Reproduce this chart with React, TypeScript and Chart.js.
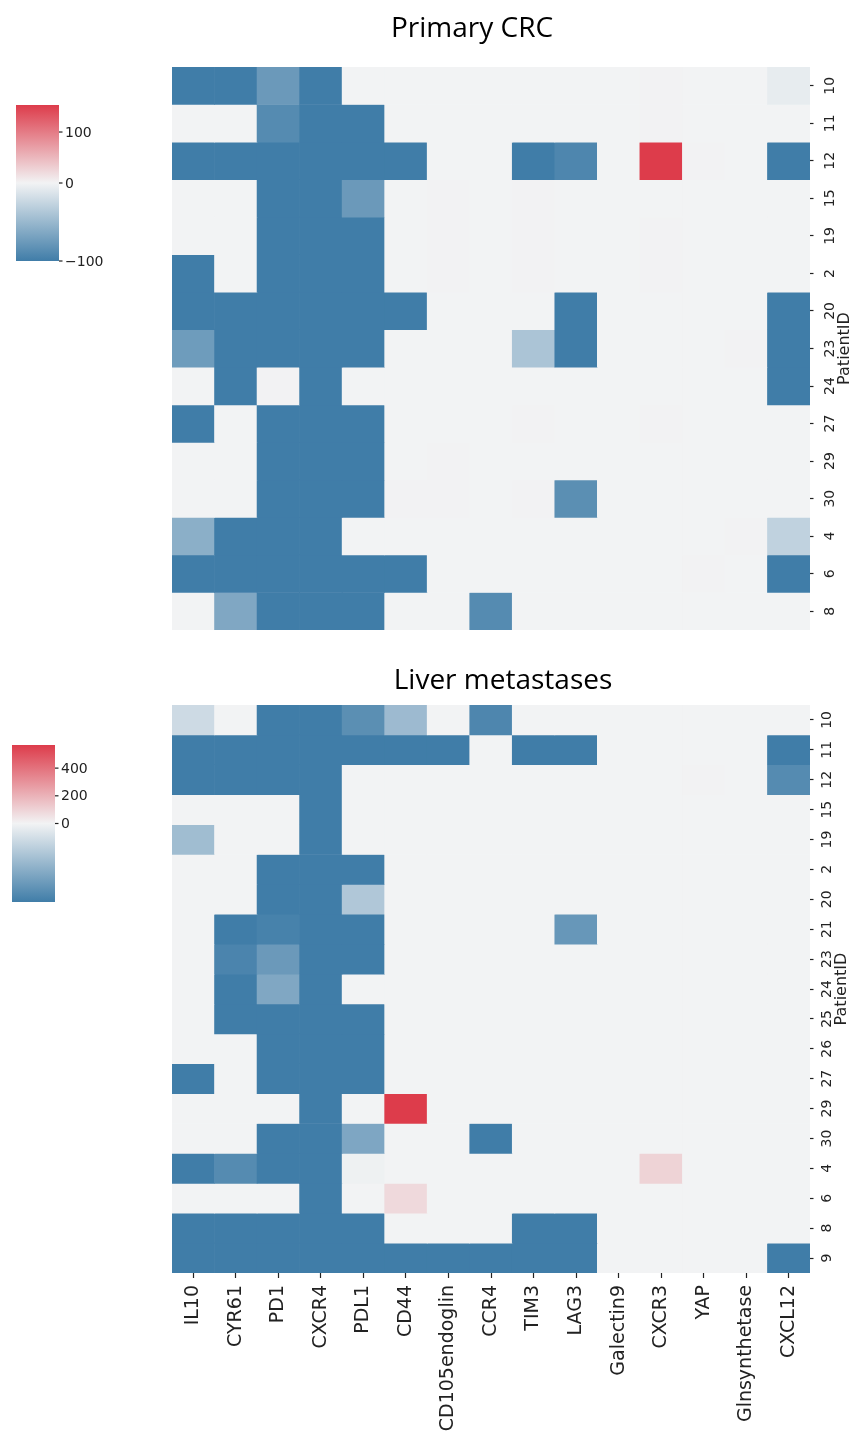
import React, { useEffect, useRef } from 'react';
import { Chart, registerables } from 'chart.js';

Chart.register(...registerables);

// ---------- data ----------
const MARKERS = [
  'IL10', 'CYR61', 'PD1', 'CXCR4', 'PDL1', 'CD44', 'CD105endoglin', 'CCR4',
  'TIM3', 'LAG3', 'Galectin9', 'CXCR3', 'YAP', 'Glnsynthetase', 'CXCL12',
];

const PRIMARY_PATIENTS = ['10', '11', '12', '15', '19', '2', '20', '23', '24', '27', '29', '30', '4', '6', '8'];
// rows = patients, columns = MARKERS
const PRIMARY_VALUES: number[][] = [
  [-100, -100, -76, -100, 0, 0, 0, 0, 0, 0, 0, 1, 0, 0, -6],
  [0, 0, -88, -100, -100, 0, 0, 0, 0, 0, 0, 1, 0, 0, 0],
  [-100, -100, -100, -100, -100, -100, 0, 0, -100, -92, 0, 153, 1, 0, -100],
  [0, 0, -100, -100, -76, 0, 1, 0, 1, 0, 0, 0, 0, 0, 0],
  [0, 0, -100, -100, -100, 0, 1, 0, 1, 0, 0, 1, 0, 0, 0],
  [-100, 0, -100, -100, -100, 0, 1, 0, 1, 0, 0, 1, 0, 0, 0],
  [-100, -100, -100, -100, -100, -100, 0, 0, 0, -100, 0, 0, 0, 0, -100],
  [-74, -100, -100, -100, -100, 0, 0, 0, -40, -100, 0, 0, 0, 1, -100],
  [0, -100, 1, -100, 0, 0, 0, 0, 0, 0, 0, 0, 0, 0, -100],
  [-100, 0, -100, -100, -100, 0, 0, 0, 1, 0, 0, 1, 0, 0, 0],
  [0, 0, -100, -100, -100, 0, 1, 0, 0, 0, 0, 0, 0, 0, 0],
  [0, 0, -100, -100, -100, 1, 1, 0, 1, -85, 0, 0, 0, 0, 0],
  [-58, -100, -100, -100, 0, 0, 0, 0, 0, 0, 0, 0, 0, 1, -28],
  [-100, -100, -100, -100, -100, -100, 0, 0, 0, 0, 0, 0, 1, 0, -100],
  [0, -64, -100, -100, -100, 0, 0, -88, 0, 0, 0, 0, 0, 0, 0],
];
const PRIMARY_VMIN = -100;
const PRIMARY_VMAX = 153;
const PRIMARY_CBAR_TICKS = [100, 0, -100];

const LIVER_PATIENTS = ['10', '11', '12', '15', '19', '2', '20', '21', '23', '24', '25', '26', '27', '29', '30', '4', '6', '8', '9'];
const LIVER_VALUES: number[][] = [
  [-21, 0, -100, -100, -85, -48, 0, -92, 1, 0, 0, 0, 0, 0, 0],
  [-100, -100, -100, -100, -100, -100, -100, 0, -100, -100, 0, 1, 0, 1, -100],
  [-100, -100, -100, -100, 0, 0, 0, 0, 0, 0, 0, 1, 2, 0, -88],
  [0, 0, 1, -100, 0, 1, 0, 0, 1, 0, 0, 0, 0, 0, 0],
  [-46, 0, 0, -100, 0, 0, 0, 0, 1, 0, 0, 1, 0, 0, 0],
  [0, 0, -100, -100, -100, 0, 0, 0, 0, 0, 0, 0, 0, 0, 0],
  [0, 0, -100, -100, -37, 0, 0, 0, 1, 0, 0, 1, 0, 0, 0],
  [0, -100, -96, -100, -100, 0, 0, 0, 0, -78, 0, 1, 0, 1, 0],
  [0, -94, -76, -100, -100, 0, 0, 0, 0, 0, 0, 0, 1, 0, 0],
  [0, -100, -64, -100, 0, 0, 0, 0, 1, 0, 0, 0, 1, 0, 0],
  [0, -100, -100, -100, -100, 0, 0, 0, 0, 0, 0, 0, 0, 0, 0],
  [0, 0, -100, -100, -100, 0, 0, 0, 0, 0, 0, 0, 0, 0, 0],
  [-100, 0, -100, -100, -100, 0, 0, 0, 0, 0, 0, 1, 0, 0, 0],
  [0, 0, 1, -100, 0, 567, 0, 0, 0, 0, 0, 1, 0, 1, 0],
  [0, 0, -100, -100, -65, 0, 0, -100, 0, 0, 0, 1, 0, 0, 0],
  [-100, -88, -100, -100, -2, 0, 0, 0, 0, 0, 0, 100, 0, 1, 0],
  [0, 0, 1, -100, 0, 80, 0, 0, 0, 0, 0, 0, 0, 0, 0],
  [-100, -100, -100, -100, -100, 0, 0, 0, -100, -100, 0, 0, 1, 0, 0],
  [-100, -100, -100, -100, -100, -100, -100, -100, -100, -100, 0, 0, 0, 0, -100],
];
const LIVER_VMIN = -100;
const LIVER_VMAX = 567;
const LIVER_CBAR_TICKS = [400, 200, 0];

// ---------- colour map (diverging blue - light grey - red, centred at 0) ----------
const NEG = [64, 125, 168];
const NEU = [242, 243, 244];
const POS = [221, 60, 75];

function mix(a: number[], b: number[], t: number) {
  const c = a.map((v, i) => Math.round(v + (b[i] - v) * t));
  return `rgb(${c[0]},${c[1]},${c[2]})`;
}
function colorFor(v: number, vmin: number, vmax: number) {
  if (v >= 0) return mix(NEU, POS, Math.min(v / vmax, 1));
  return mix(NEU, NEG, Math.min(v / vmin, 1));
}

const TICK_COLOR = '#222';
const SANS = '"DejaVu Sans", sans-serif';
const TITLE_FONT = '28px "Open Sans", sans-serif';

interface PanelProps {
  top: number;
  height: number;
  title: string;
  titleX: number;
  titleBaseline: number;
  patients: string[];
  values: number[][];
  vmin: number;
  vmax: number;
  cbarTicks: number[];
  cbar: { x0: number; y0: number; x1: number; y1: number };
  showX: boolean;
  padding: { left: number; top: number; right: number; bottom: number };
  xAxisHeight: number;
  yLabelOffset: number;
  yTitleOffset: number;
}

function Panel(p: PanelProps) {
  const ref = useRef<HTMLCanvasElement>(null);
  useEffect(() => {
    if (!ref.current) return;
    const datasets = p.patients.map((pid, i) => ({
      label: pid,
      data: MARKERS.map(() => 1),
      backgroundColor: p.values[i].map((v) => colorFor(v, p.vmin, p.vmax)),
      borderWidth: 0,
      categoryPercentage: 1,
      barPercentage: 1,
    }));

    const overlay = {
      id: 'overlay',
      afterDraw(chart: any) {
        const ctx = chart.ctx as CanvasRenderingContext2D;
        const area = chart.chartArea;
        const yScale = chart.scales.y;
        ctx.save();
        // title
        ctx.fillStyle = '#000';
        ctx.font = TITLE_FONT;
        ctx.textAlign = 'center';
        ctx.textBaseline = 'alphabetic';
        ctx.fillText(p.title, p.titleX, p.titleBaseline);

        // patient tick labels (rotated)
        ctx.fillStyle = TICK_COLOR;
        ctx.font = `14px ${SANS}`;
        ctx.textAlign = 'center';
        ctx.textBaseline = 'middle';
        p.patients.forEach((pid, i) => {
          const py = yScale.getPixelForValue(i + 0.5);
          ctx.save();
          ctx.translate(area.right + p.yLabelOffset, py);
          ctx.rotate(-Math.PI / 2);
          ctx.fillText(pid, 0, 0);
          ctx.restore();
        });

        // axis title
        ctx.font = `16px ${SANS}`;
        ctx.save();
        ctx.translate(area.right + p.yTitleOffset, (area.top + area.bottom) / 2);
        ctx.rotate(-Math.PI / 2);
        ctx.fillText('PatientID', 0, 0);
        ctx.restore();

        // colour bar
        const { x0, y0, x1, y1 } = p.cbar;
        const grad = ctx.createLinearGradient(0, y0, 0, y1);
        grad.addColorStop(0, `rgb(${POS.join(',')})`);
        grad.addColorStop(0.5, `rgb(${NEU.join(',')})`);
        grad.addColorStop(1, `rgb(${NEG.join(',')})`);
        ctx.fillStyle = grad;
        ctx.fillRect(x0, y0, x1 - x0, y1 - y0);
        const mid = (y0 + y1) / 2;
        const half = (y1 - y0) / 2;
        ctx.strokeStyle = TICK_COLOR;
        ctx.lineWidth = 1.2;
        ctx.fillStyle = TICK_COLOR;
        ctx.font = `14px ${SANS}`;
        ctx.textAlign = 'left';
        ctx.textBaseline = 'middle';
        p.cbarTicks.forEach((t) => {
          const ty = t >= 0 ? mid - (t / p.vmax) * half : mid + (t / p.vmin) * half;
          ctx.beginPath();
          ctx.moveTo(x1, ty);
          ctx.lineTo(x1 + 3.5, ty);
          ctx.stroke();
          const label = t < 0 ? '\u2212' + String(-t) : String(t);
          ctx.fillText(label, x1 + 6, ty + 1);
        });
        ctx.restore();
      },
    };

    const chart = new Chart(ref.current, {
      type: 'bar',
      data: { labels: MARKERS, datasets },
      options: {
        responsive: false,
        animation: false,
        devicePixelRatio: 1,
        events: [],
        layout: { padding: p.padding, autoPadding: false },
        plugins: {
          legend: { display: false },
          title: { display: false },
          tooltip: { enabled: false },
        },
        scales: {
          x: {
            type: 'category',
            stacked: true,
            display: p.showX,
            offset: true,
            grid: {
              display: true,
              drawOnChartArea: false,
              drawTicks: true,
              tickLength: 5,
              tickColor: TICK_COLOR,
              tickWidth: 1.2,
              offset: false,
            },
            border: { display: false },
            ticks: {
              autoSkip: false,
              minRotation: 90,
              maxRotation: 90,
              padding: 7,
              color: TICK_COLOR,
              font: { family: 'DejaVu Sans', size: 19 },
            },
            afterFit: (s: any) => {
              if (p.showX) s.height = p.xAxisHeight;
            },
          },
          y: {
            type: 'linear',
            stacked: true,
            reverse: true,
            min: 0,
            max: p.patients.length,
            position: 'right',
            grid: {
              display: true,
              drawOnChartArea: false,
              drawTicks: true,
              tickLength: 3.5,
              tickColor: TICK_COLOR,
              tickWidth: 1.2,
            },
            border: { display: false },
            ticks: { display: false },
            afterBuildTicks: (s: any) => {
              s.ticks = p.patients.map((_, i) => ({ value: i + 0.5 }));
            },
            afterFit: (s: any) => {
              s.width = 45;
            },
          },
        },
      } as any,
      plugins: [overlay],
    });
    return () => chart.destroy();
  }, []);
  return (
    <canvas
      ref={ref}
      width={855}
      height={p.height}
      style={{ position: 'absolute', left: 0, top: p.top, width: 855, height: p.height, display: 'block' }}
    />
  );
}

export default function App() {
  return (
    <div style={{ position: 'absolute', left: 0, top: 0, width: 855, height: 1437, background: '#fff', overflow: 'hidden' }}>
      <Panel
        top={0}
        height={660}
        title="Primary CRC"
        titleX={472}
        titleBaseline={37}
        patients={PRIMARY_PATIENTS}
        values={PRIMARY_VALUES}
        vmin={PRIMARY_VMIN}
        vmax={PRIMARY_VMAX}
        cbarTicks={PRIMARY_CBAR_TICKS}
        cbar={{ x0: 16, y0: 105, x1: 59, y1: 261 }}
        showX={false}
        padding={{ left: 172, top: 67, right: 0, bottom: 30 }}
        xAxisHeight={0}
        yLabelOffset={20}
        yTitleOffset={35}
      />
      <Panel
        top={650}
        height={787}
        title="Liver metastases"
        titleX={503}
        titleBaseline={39}
        patients={LIVER_PATIENTS}
        values={LIVER_VALUES}
        vmin={LIVER_VMIN}
        vmax={LIVER_VMAX}
        cbarTicks={LIVER_CBAR_TICKS}
        cbar={{ x0: 12, y0: 95, x1: 55, y1: 252 }}
        showX={true}
        padding={{ left: 172, top: 55, right: 0, bottom: 0 }}
        xAxisHeight={164}
        yLabelOffset={17}
        yTitleOffset={32}
      />
    </div>
  );
}
